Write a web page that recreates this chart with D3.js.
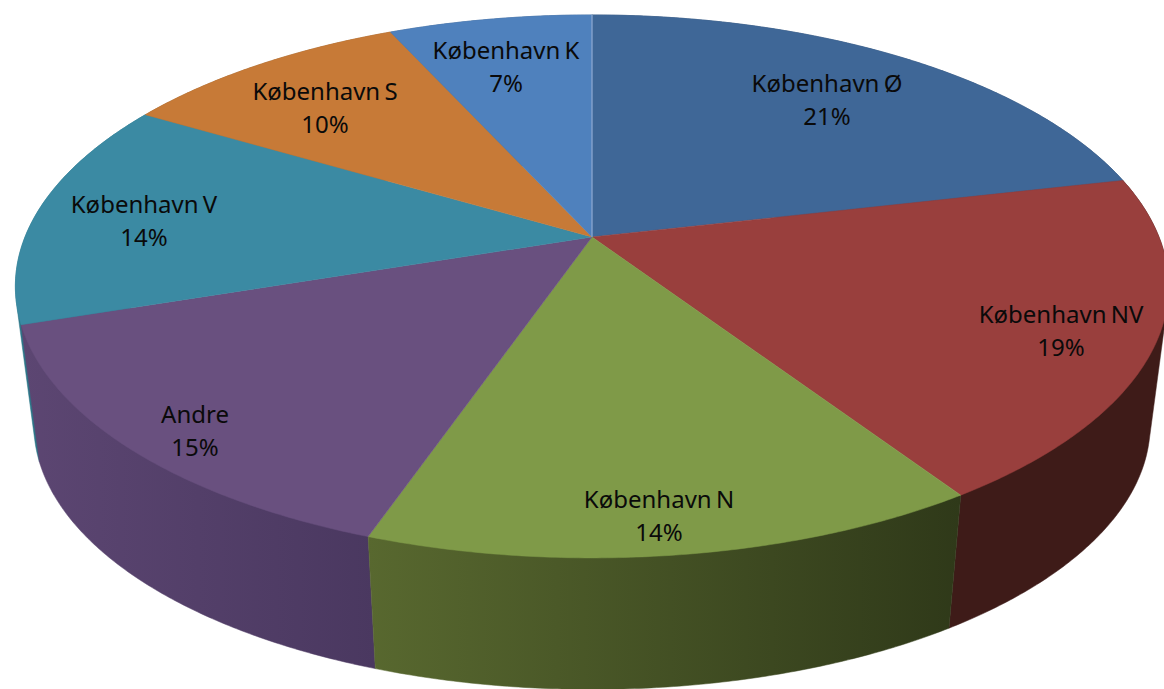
<!DOCTYPE html>
<html><head><meta charset="utf-8">
<script src="https://cdn.jsdelivr.net/npm/d3@7"></script>
<style>html,body{margin:0;padding:0;background:#fff}svg{display:block}</style></head>
<body><svg id="c" width="1164" height="689"></svg>
<script>
const categories = ["København Ø","København NV","København N","Andre","København V","København S","København K"];
const values = [21.4,19.3,14.6,14.6,13.6,9.7,6.8];
const percentLabels = ["21%","19%","14%","15%","14%","10%","7%"];
const topColors = ["#3f6797","#993f3d","#7f9a48","#69507f","#3b8aa3","#c77a37","#4f81bd"];
const sideLeft = ["#2f4c70","#3e1b18","#58682f","#5c4672","#2c7688","#935a28","#3a5f8c"];
const sideRight = ["#2f4c70","#3e1b18","#2f3919","#4a3860","#2c7688","#935a28","#3a5f8c"];

// layout
const cx = 592, cy = 237, Rx = 567, Ry = 262.5, k = 0.182;
const bottomScaleX = 0.968, bottomScaleY = 0.975, bottomDrop = 139.5;
const labelPos = [[827,84],[1061,315],[659,500],[195,415],[144,205],[325,92],[506,51]];

function project(a, r, bottom) {
  const ux = Math.sin(a) * r, uy = -Math.cos(a) * r, w = 1 - k * uy;
  const sx = bottom ? bottomScaleX : 1, sy = bottom ? bottomScaleY : 1, d = bottom ? bottomDrop : 0;
  return [cx + sx * Rx * ux / w, cy + d + sy * Ry * uy / w];
}
const line = d3.line();
const arcSamples = (a0, a1, bottom) => {
  const n = Math.max(2, Math.ceil((a1 - a0) * 120));
  return d3.range(n + 1).map(i => project(a0 + (a1 - a0) * i / n, 1, bottom));
};
const arcs = d3.pie().sort(null).value(d => d)(values);
const svg = d3.select("#c");
const defs = svg.append("defs");

// sides, painted from the back of the pie to the front
const sides = svg.append("g");
const midOff = d => Math.abs((d.startAngle + d.endAngle) / 2 - Math.PI);
arcs.map((d, i) => ({d, i})).sort((p, q) => midOff(q.d) - midOff(p.d)).forEach(({d, i}) => {
  const pts = d3.polygonHull(arcSamples(d.startAngle, d.endAngle, false)
    .concat(arcSamples(d.startAngle, d.endAngle, true)));
  const ex = d3.extent(pts, p => p[0]);
  const g = defs.append("linearGradient").attr("id", "s" + i)
    .attr("gradientUnits", "userSpaceOnUse")
    .attr("x1", ex[0]).attr("x2", ex[1]).attr("y1", 0).attr("y2", 0);
  g.append("stop").attr("offset", 0).attr("stop-color", sideLeft[i]);
  g.append("stop").attr("offset", 1).attr("stop-color", sideRight[i]);
  sides.append("path").attr("d", line(pts) + "Z")
    .attr("fill", `url(#s${i})`).attr("stroke", `url(#s${i})`).attr("stroke-width", 0.5);
});

const tops = svg.append("g");
arcs.forEach((d, i) => {
  const pts = [[cx, cy]].concat(arcSamples(d.startAngle, d.endAngle, false));
  tops.append("path").attr("d", line(pts) + "Z")
    .attr("fill", topColors[i]).attr("stroke", topColors[i]).attr("stroke-width", 0.5);
});
// light seam between the last and first slice
tops.append("path").attr("d", line([[cx, cy], project(0, 1, false)]))
  .attr("stroke", "#8fa9cf").attr("stroke-width", 1.2).attr("fill", "none");

const labels = svg.append("g").attr("font-family", "'Noto Sans', sans-serif")
  .attr("font-size", 24).attr("fill", "#0a0a0a").attr("text-anchor", "middle");
categories.forEach((c, i) => {
  const [x, y] = labelPos[i];
  labels.append("text").attr("x", x).attr("y", y + 8).attr("word-spacing", -2).text(c);
  labels.append("text").attr("x", x).attr("y", y + 41).text(percentLabels[i]);
});
</script></body></html>
